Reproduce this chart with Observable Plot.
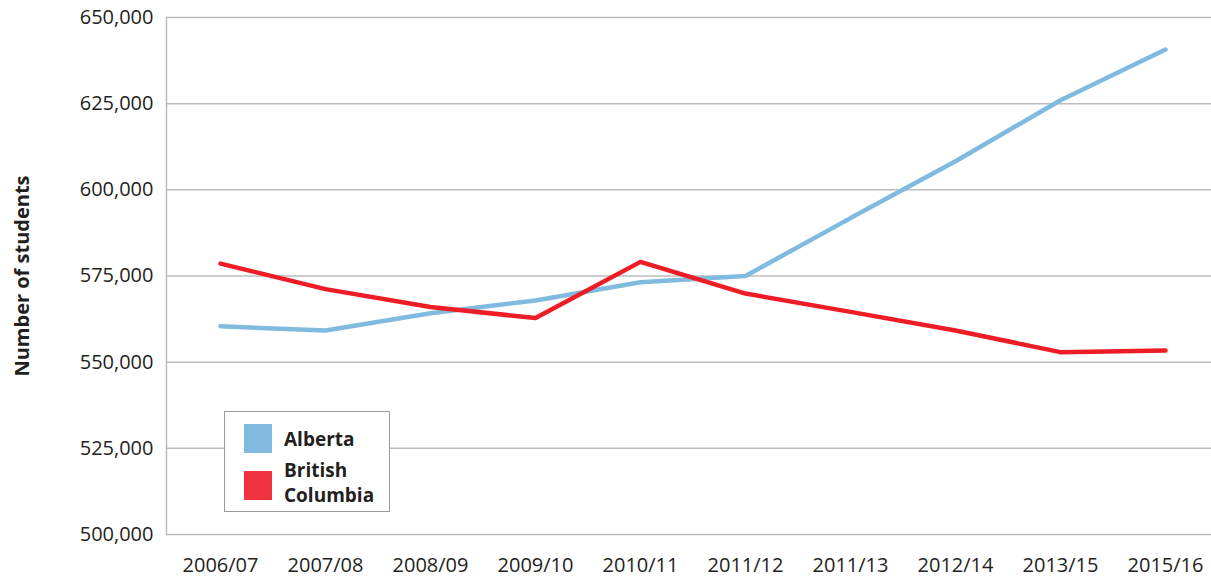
<!DOCTYPE html>
<html>
<head>
<meta charset="utf-8">
<script src="https://cdn.jsdelivr.net/npm/d3@7"></script>
<script src="https://cdn.jsdelivr.net/npm/@observablehq/plot@0.6"></script>
<style>
  html, body { margin: 0; padding: 0; background: #fff; overflow: hidden; }
  #wrap { position: relative; width: 1211px; height: 578px; }
  #wrap svg { display: block; }
  #legend {
    position: absolute; left: 224px; top: 411px; width: 166px; height: 101px;
    box-sizing: border-box; border: 1px solid #9a9a9a; background: #fff;
    font-family: "Open Sans", sans-serif; font-weight: bold; font-size: 19px; color: #231f20;
  }
  .sw { position: absolute; left: 19px; width: 28px; height: 29px; }
  .lbl { position: absolute; left: 59px; line-height: 25px; }
</style>
</head>
<body>
<div id="wrap"></div>
<script>
const years = ["2006/07","2007/08","2008/09","2009/10","2010/11","2011/12","2011/13","2012/14","2013/15","2015/16"];
const alberta = [560400, 559200, 564200, 567900, 573200, 575000, 591800, 608300, 626000, 640700];
const britishColumbia = [578600, 571200, 566000, 562800, 579100, 569900, 564600, 559200, 552900, 553400];
const seriesNames = ["Alberta", "British Columbia"];
const seriesColors = ["#80bbdf", "#ee1c25"];
const legendColors = ["#80bbdf", "#ef3340"];
const yTicks = [500000, 525000, 550000, 575000, 600000, 625000, 650000];

const data = [];
years.forEach((yr, i) => {
  data.push({year: yr, value: alberta[i], series: seriesNames[0]});
  data.push({year: yr, value: britishColumbia[i], series: seriesNames[1]});
});

const fmt = d3.format(",");

const chart = Plot.plot({
  width: 1211,
  height: 578,
  marginLeft: 166,
  marginRight: 0,
  marginTop: 17,
  marginBottom: 44,
  style: {fontFamily: "'Open Sans', sans-serif", fontSize: "20px", color: "#231f20", background: "#fff"},
  x: {type: "point", domain: years, range: [219, 1166], padding: 0, label: null},
  y: {domain: [500000, 650000], label: null},
  color: {domain: seriesNames, range: seriesColors},
  marks: [
    Plot.ruleY(yTicks, {stroke: "#bdbdbd", strokeWidth: 1.5}),
    Plot.frame({anchor: "left", stroke: "#bdbdbd", strokeWidth: 1.5}),
    Plot.axisY(yTicks, {tickSize: 0, tickPadding: 13, tickFormat: fmt, fontSize: 20, fill: "#231f20", label: null}),
    Plot.axisX({tickSize: 0, tickPadding: 23, fontSize: 20, fill: "#231f20", label: null}),
    Plot.text(["Number of students"], {frameAnchor: "left", textAnchor: "middle", dx: -144, rotate: -90, fontWeight: "bold", fontSize: 20, fill: "#231f20"}),
    Plot.line(data, {x: "year", y: "value", stroke: "series", z: "series", strokeWidth: 4.5, strokeLinejoin: "miter"})
  ]
});

const wrap = document.getElementById("wrap");
wrap.appendChild(chart);

const legend = document.createElement("div");
legend.id = "legend";
legend.innerHTML =
  `<div class="sw" style="top:12px;background:${legendColors[0]}"></div>` +
  `<div class="lbl" style="top:15px">Alberta</div>` +
  `<div class="sw" style="top:59px;background:${legendColors[1]}"></div>` +
  `<div class="lbl" style="top:46px">British<br>Columbia</div>`;
wrap.appendChild(legend);
</script>
</body>
</html>
